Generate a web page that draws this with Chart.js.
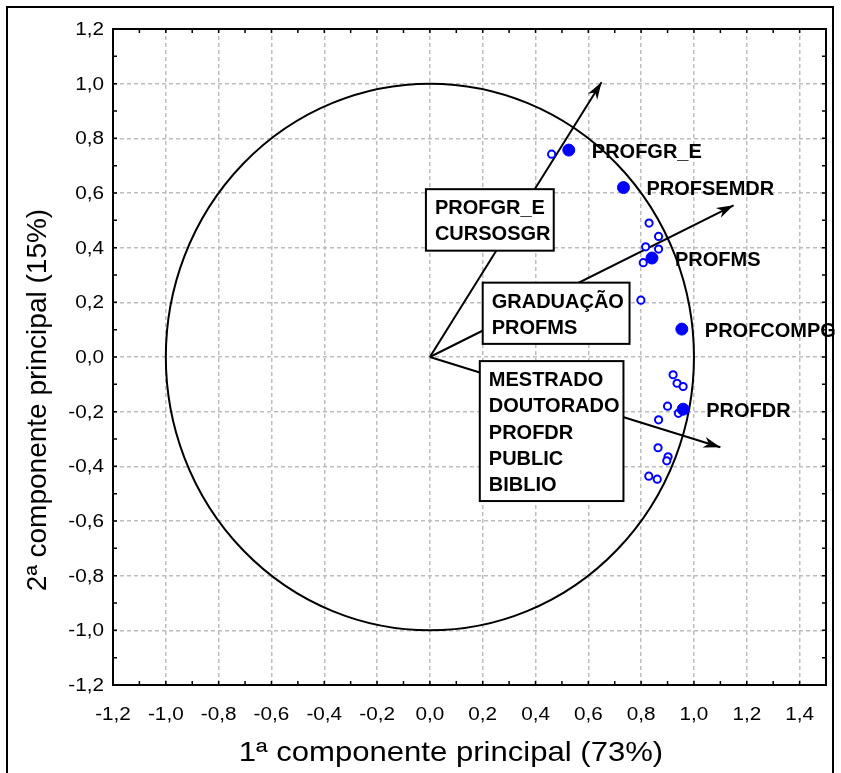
<!DOCTYPE html>
<html>
<head>
<meta charset="utf-8">
<script src="https://cdn.jsdelivr.net/npm/chart.js@4.4.1/dist/chart.umd.min.js"></script>
<style>
  html, body { margin: 0; padding: 0; background: #fff; }
  canvas { display: block; }
</style>
</head>
<body>
<canvas id="pca" width="841" height="773"></canvas>
<script>
// observations (open circles)
const obsX = [0.461, 0.830, 0.866, 0.817, 0.866, 0.808, 0.799, 0.921, 0.936, 0.959, 0.900, 0.941, 0.866, 0.864, 0.902, 0.897, 0.829, 0.861];
const obsY = [0.742, 0.490, 0.441, 0.403, 0.395, 0.345, 0.208, -0.065, -0.096, -0.108, -0.180, -0.206, -0.230, -0.332, -0.365, -0.380, -0.436, -0.447];

// variables (filled dots)
const varNames = ['PROFGR_E', 'PROFSEMDR', 'PROFMS', 'PROFCOMPG', 'PROFDR'];
const varX = [0.526, 0.733, 0.841, 0.954, 0.959];
const varY = [0.757, 0.620, 0.362, 0.102, -0.191];

// arrow tips (all start at the origin)
const arrowX = [0.65, 1.15, 1.10];
const arrowY = [1.005, 0.555, -0.33];

// group boxes
const boxLines = [
    ['PROFGR_E', 'CURSOSGR'],
    ['GRADUAÇÃO', 'PROFMS'],
    ['MESTRADO', 'DOUTORADO', 'PROFDR', 'PUBLIC', 'BIBLIO']
];

const xTicks = [-1.2, -1.0, -0.8, -0.6, -0.4, -0.2, 0.0, 0.2, 0.4, 0.6, 0.8, 1.0, 1.2, 1.4];
const yTicks = [-1.2, -1.0, -0.8, -0.6, -0.4, -0.2, 0.0, 0.2, 0.4, 0.6, 0.8, 1.0, 1.2];

const xTitle = '1ª componente principal (73%)';
const yTitle = '2ª componente principal (15%)';

const fmt = v => v.toFixed(1).replace('.', ',');
const BLUE = '#0000ff';
const FONT = '"Liberation Sans", Arial, sans-serif';

// box corners in axis units (left, top, right, bottom)
const boxPos = [
    [-0.015, 0.614, 0.469, 0.389],
    [0.200, 0.272, 0.756, 0.048],
    [0.189, -0.015, 0.733, -0.527]
];

// text drawn a little wider than the font, like the source picture
function wideText(ctx, s, px, py, sx) {
    ctx.save();
    ctx.translate(px, py);
    ctx.scale(sx, 1);
    ctx.fillText(s, 0, 0);
    ctx.restore();
}

const pcaPlugin = {
    id: 'pcaExtras',
    beforeDatasetsDraw(chart) {
        const { ctx, scales: { x, y } } = chart;
        const cx = x.getPixelForValue(0), cy = y.getPixelForValue(0);
        const rx = x.getPixelForValue(1) - cx, ry = cy - y.getPixelForValue(1);
        ctx.save();
        ctx.strokeStyle = '#000';
        ctx.lineWidth = 2;
        ctx.beginPath();
        ctx.ellipse(cx, cy, rx, ry, 0, 0, Math.PI * 2);
        ctx.stroke();
        ctx.restore();
    },
    afterDatasetsDraw(chart) {
        const { ctx, chartArea: a, scales: { x, y } } = chart;
        ctx.save();

        // arrow heads
        const ox = x.getPixelForValue(0), oy = y.getPixelForValue(0);
        ctx.fillStyle = '#000';
        arrowX.forEach((v, i) => {
            const tx = x.getPixelForValue(v), ty = y.getPixelForValue(arrowY[i]);
            const ang = Math.atan2(ty - oy, tx - ox);
            const len = 17, half = 5.5;
            ctx.beginPath();
            ctx.moveTo(tx, ty);
            ctx.lineTo(tx - len * Math.cos(ang) + half * Math.sin(ang), ty - len * Math.sin(ang) - half * Math.cos(ang));
            ctx.lineTo(tx - 12 * Math.cos(ang), ty - 12 * Math.sin(ang));
            ctx.lineTo(tx - len * Math.cos(ang) - half * Math.sin(ang), ty - len * Math.sin(ang) + half * Math.cos(ang));
            ctx.closePath();
            ctx.fill();
        });

        // boxes
        ctx.font = 'bold 20px ' + FONT;
        ctx.textBaseline = 'alphabetic';
        boxPos.forEach((b, i) => {
            const l = x.getPixelForValue(b[0]), t = y.getPixelForValue(b[1]);
            const r = x.getPixelForValue(b[2]), btm = y.getPixelForValue(b[3]);
            ctx.fillStyle = '#fff';
            ctx.fillRect(l, t, r - l, btm - t);
            ctx.strokeStyle = '#000';
            ctx.lineWidth = 2;
            ctx.strokeRect(l, t, r - l, btm - t);
            ctx.fillStyle = '#000';
            boxLines[i].forEach((s, j) => ctx.fillText(s, l + 9, t + 25 + j * 26.2));
        });

        // plot frame and inward ticks
        ctx.strokeStyle = '#000';
        ctx.lineWidth = 2;
        ctx.strokeRect(a.left, a.top, a.right - a.left, a.bottom - a.top);
        ctx.lineWidth = 1.5;
        ctx.beginPath();
        for (let k = -12; k <= 15; k++) {
            const px = x.getPixelForValue(k / 10);
            ctx.moveTo(px, a.bottom); ctx.lineTo(px, a.bottom - 4);
            ctx.moveTo(px, a.top); ctx.lineTo(px, a.top + 4);
        }
        for (let k = -12; k <= 12; k++) {
            const py = y.getPixelForValue(k / 10);
            ctx.moveTo(a.left, py); ctx.lineTo(a.left + 4, py);
            ctx.moveTo(a.right, py); ctx.lineTo(a.right - 4, py);
        }
        ctx.stroke();

        // variable labels (on top of the frame)
        ctx.fillStyle = '#000';
        ctx.font = 'bold 20px ' + FONT;
        ctx.textBaseline = 'middle';
        varNames.forEach((n, i) => {
            ctx.fillText(n, x.getPixelForValue(varX[i]) + 23, y.getPixelForValue(varY[i]) + 2);
        });

        // tick labels
        ctx.font = '18px ' + FONT;
        ctx.textAlign = 'center';
        xTicks.forEach(v => wideText(ctx, fmt(v), x.getPixelForValue(v), a.bottom + 30, 1.15));
        ctx.textAlign = 'right';
        yTicks.forEach(v => wideText(ctx, fmt(v), a.left - 9, y.getPixelForValue(v) + 1, 1.15));
        ctx.restore();
    },
    afterDraw(chart) {
        const { ctx } = chart;
        ctx.save();
        ctx.strokeStyle = '#000';
        ctx.lineWidth = 2;
        ctx.strokeRect(7, 7, 826, 800);
        ctx.fillStyle = '#000';
        ctx.font = '28px ' + FONT;
        ctx.textAlign = 'center';
        ctx.textBaseline = 'middle';
        wideText(ctx, xTitle, 451, 753, 1.11);
        ctx.translate(38, 400);
        ctx.rotate(-Math.PI / 2);
        ctx.fillText(yTitle, 0, 0);
        ctx.restore();
    }
};

const arrowSets = arrowX.map((v, i) => ({
    type: 'line',
    data: [{ x: 0, y: 0 }, { x: v, y: arrowY[i] }],
    borderColor: '#000',
    borderWidth: 2,
    pointRadius: 0,
    showLine: true,
    fill: false,
    order: 3
}));

new Chart(document.getElementById('pca'), {
    type: 'scatter',
    data: {
        datasets: [
            {
                label: 'variáveis',
                data: varX.map((v, i) => ({ x: v, y: varY[i] })),
                backgroundColor: BLUE,
                borderColor: BLUE,
                pointRadius: 6,
                order: 1
            },
            {
                label: 'casos',
                data: obsX.map((v, i) => ({ x: v, y: obsY[i] })),
                backgroundColor: '#fff',
                borderColor: BLUE,
                borderWidth: 2,
                pointRadius: 3.6,
                order: 2
            },
            ...arrowSets
        ]
    },
    options: {
        responsive: false,
        animation: false,
        devicePixelRatio: 1,
        layout: { padding: { left: 0, top: 29, right: 15, bottom: 0 } },
        plugins: { legend: { display: false }, tooltip: { enabled: false } },
        scales: {
            x: {
                type: 'linear', min: -1.2, max: 1.5,
                afterBuildTicks: s => { s.ticks = xTicks.map(v => ({ value: v })); },
                afterFit: s => { s.height = 88; },
                ticks: { display: false },
                grid: { color: '#bdbdbd', lineWidth: 1.5, drawTicks: false },
                border: { display: false, dash: [4, 3] }
            },
            y: {
                type: 'linear', min: -1.2, max: 1.2,
                afterBuildTicks: s => { s.ticks = yTicks.map(v => ({ value: v })); },
                afterFit: s => { s.width = 113; },
                ticks: { display: false },
                grid: { color: '#bdbdbd', lineWidth: 1.5, drawTicks: false },
                border: { display: false, dash: [4, 3] }
            }
        }
    },
    plugins: [pcaPlugin]
});
</script>
</body>
</html>
